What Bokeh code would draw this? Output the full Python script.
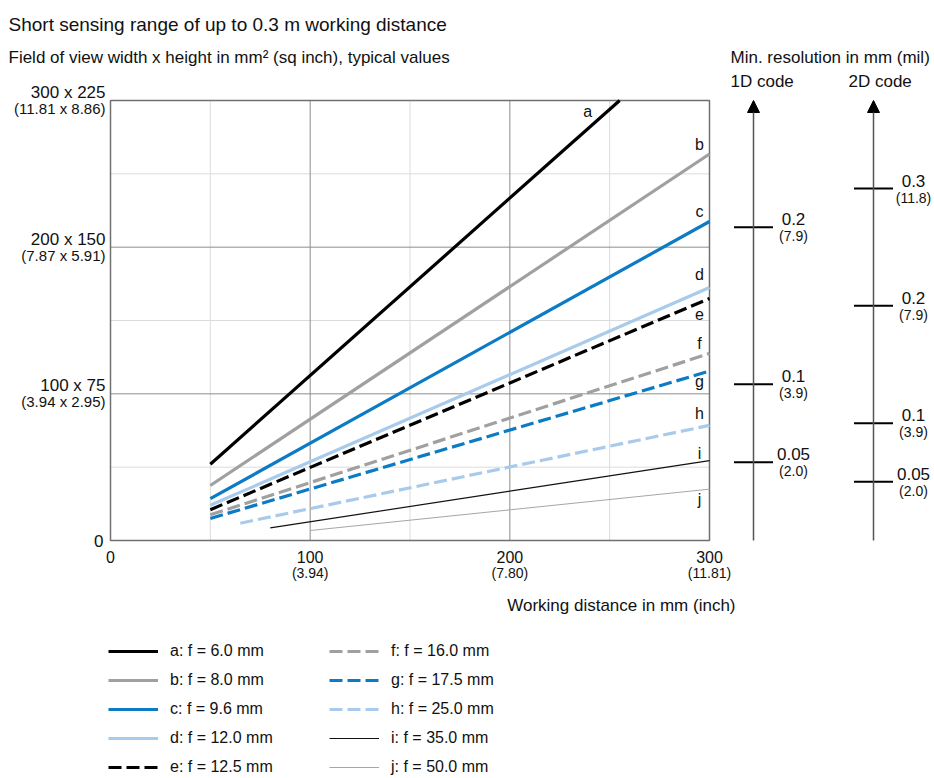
from bokeh.plotting import figure
from bokeh.models import Range1d, Legend, LegendItem, Arrow, NormalHead
from bokeh.embed import file_html
from bokeh.resources import INLINE
from bokeh.core.properties import value

# ---------------- data ----------------
series = ["a", "b", "c", "d", "e", "f", "g", "h", "i", "j"]
focal_mm = ["6.0", "8.0", "9.6", "12.0", "12.5", "16.0", "17.5", "25.0", "35.0", "50.0"]
dist_start = [50, 50, 50, 50, 50, 50, 50, 65, 80, 100]
dist_end = [255, 300, 300, 300, 300, 300, 300, 300, 300, 300]
fov_start = [52, 37.5, 28.5, 24, 21, 17.5, 15, 11.8, 8.6, 6.8]
fov_end = [300, 263.5, 217.5, 172.5, 165, 127.5, 115.5, 78.5, 54.5, 35]

x_ticks = [0, 100, 200, 300]
x_tick_labels = ["0", "100", "200", "300"]
x_tick_inch = ["", "(3.94)", "(7.80)", "(11.81)"]
y_ticks = [0, 100, 200, 300]
y_tick_main = ["0", "100 x 75", "200 x 150", "300 x 225"]
y_tick_inch = ["", "(3.94 x 2.95)", "(7.87 x 5.91)", "(11.81 x 8.86)"]
grid_major = [100, 200]
grid_minor = [50, 150, 250]

res_1d = ["0.2", "0.1", "0.05"]
res_1d_mil = ["(7.9)", "(3.9)", "(2.0)"]
fov_1d = [213.5, 106.5, 53.3]
res_2d = ["0.3", "0.2", "0.1", "0.05"]
res_2d_mil = ["(11.8)", "(7.9)", "(3.9)", "(2.0)"]
fov_2d = [240, 160, 80, 40]

# ---------------- styles / layout ----------------
FONT = "Liberation Sans"
TXT = "#111111"
colors = ["#000000", "#a0a0a0", "#0a7bc4", "#a8cbec",
          "#000000", "#a0a0a0", "#0a7bc4", "#a8cbec", "#111111", "#a6a6a6"]
dashes = ["solid"] * 4 + ["13 5"] * 4 + ["solid"] * 2
widths = [3.2] * 8 + [1.2, 1.0]
label_dx = [-32] + [-10] * 9
label_dy = [11, -10, -10, -13, 15, -10, 10, -12, -7, 10]

W, H = 934, 778
BOX_L, BOX_R, BOX_T, BOX_B = 110, 709, 100, 540     # pixel box of the chart area
PX_X = (BOX_R - BOX_L) / (x_ticks[-1] - x_ticks[0])
PX_Y = (BOX_B - BOX_T) / (y_ticks[-1] - y_ticks[0])
X_RANGE = (-BOX_L / PX_X, (W - BOX_L) / PX_X)
Y_RANGE = (-(H - BOX_B) / PX_Y, BOX_B / PX_Y)
SCALE_X = [(753 - BOX_L) / PX_X, (873 - BOX_L) / PX_X]  # 1D / 2D resolution scales
SCALE_LABEL_DX = [40, 40]

p = figure(width=W, height=H, x_range=Range1d(*X_RANGE), y_range=Range1d(*Y_RANGE),
           min_border_left=0, min_border_right=0, min_border_top=0, min_border_bottom=0,
           output_backend="svg", toolbar_location=None)
p.outline_line_color = None
p.xaxis.visible = False
p.yaxis.visible = False
p.xgrid.visible = False
p.ygrid.visible = False

x0, x1 = x_ticks[0], x_ticks[-1]
y0, y1 = y_ticks[0], y_ticks[-1]

# grid lines limited to the box
p.segment(x0=x0, y0=grid_minor, x1=x1, y1=grid_minor, line_color="#dcdcdc", line_width=1)
p.segment(x0=grid_minor, y0=y0, x1=grid_minor, y1=y1, line_color="#dcdcdc", line_width=1)
p.segment(x0=x0, y0=grid_major, x1=x1, y1=grid_major, line_color="#8c8c8c", line_width=1)
p.segment(x0=grid_major, y0=y0, x1=grid_major, y1=y1, line_color="#8c8c8c", line_width=1)
p.quad(left=x0, right=x1, bottom=y0, top=y1, fill_color=None, line_color="#707070", line_width=1.5)

# curves
items = []
for k in range(len(series)):
    r = p.line([dist_start[k], dist_end[k]], [fov_start[k], fov_end[k]],
               line_color=colors[k], line_width=widths[k], line_dash=dashes[k])
    items.append(LegendItem(label=f"{series[k]}: f = {focal_mm[k]} mm", renderers=[r]))


def txt(x, y, text, dx, dy, size, align="center", baseline="middle"):
    p.text(x=x, y=y, text=text, x_offset=dx, y_offset=dy, text_font=value(FONT),
           text_font_size=f"{size}px", text_color=TXT, text_align=align, text_baseline=baseline)


txt(dist_end, fov_end, series, label_dx, label_dy, 16)

# resolution scales
for sx, fovs, mains, subs, dx in [(SCALE_X[0], fov_1d, res_1d, res_1d_mil, SCALE_LABEL_DX[0]),
                                  (SCALE_X[1], fov_2d, res_2d, res_2d_mil, SCALE_LABEL_DX[1])]:
    p.add_layout(Arrow(end=NormalHead(size=12, fill_color="black", line_color="black"),
                       x_start=sx, y_start=y0, x_end=sx, y_end=y1,
                       line_color="#555555", line_width=1.5))
    p.scatter(x=[sx] * len(fovs), y=fovs, marker="dash", size=39, line_color="black", line_width=2)
    txt([sx] * len(fovs), fovs, mains, dx, -8, 17)
    txt([sx] * len(fovs), fovs, subs, dx, 9, 14)

# titles
txt([x0], [y1], ["Short sensing range of up to 0.3 m working distance"], -102, -76, 19,
    align="left", baseline="alphabetic")
txt([x0], [y1], ["Field of view width x height in mm² (sq inch), typical values"], -102, -43, 17,
    align="left", baseline="alphabetic")
txt([SCALE_X[0]], [y1], ["Min. resolution in mm (mil)"], -23, -43, 17, align="left", baseline="alphabetic")
txt([SCALE_X[0]], [y1], ["1D code"], -23, -19, 17, align="left", baseline="alphabetic")
txt([SCALE_X[1]], [y1], ["2D code"], -25, -19, 17, align="left", baseline="alphabetic")

# y tick labels
txt([x0] * len(y_ticks[1:]), y_ticks[1:], y_tick_main[1:], -5, -8, 17, align="right")
txt([x0] * len(y_ticks[1:]), y_ticks[1:], y_tick_inch[1:], -5, 8, 15, align="right")
txt([x0], [y_ticks[0]], [y_tick_main[0]], -7, 0, 17, align="right")

# x tick labels
txt(x_ticks, [y0] * len(x_ticks), x_tick_labels, 0, 16, 16)
txt(x_ticks[1:], [y0] * len(x_ticks[1:]), x_tick_inch[1:], 0, 32, 14)
txt([x1], [y0], ["Working distance in mm (inch)"], 26, 65, 17, align="right")

legend = Legend(items=items, location=(108, 1), orientation="vertical", nrows=5,
                glyph_width=50, glyph_height=20, label_height=20, label_width=150,
                label_standoff=12, spacing=9, padding=0, margin=0,
                border_line_color=None, background_fill_alpha=0,
                label_text_font=FONT, label_text_font_size="16px", label_text_color=TXT)
p.add_layout(legend, "center")

open("out.html", "w").write(file_html(p, INLINE))
